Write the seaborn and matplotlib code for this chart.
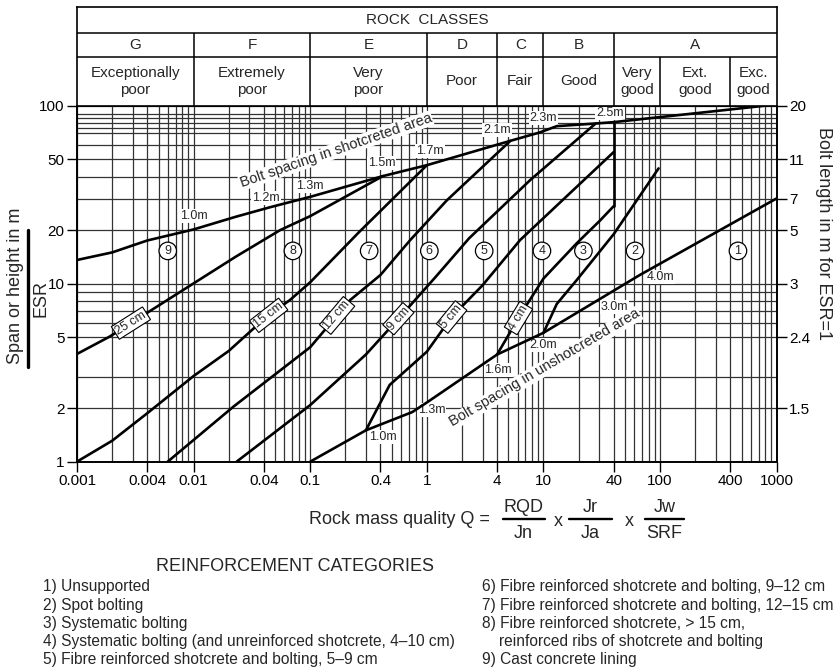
import numpy as np
import pandas as pd
import matplotlib
matplotlib.use("Agg")
import matplotlib.pyplot as plt
import seaborn as sns
from matplotlib.ticker import FixedLocator, FixedFormatter, NullLocator
from matplotlib.lines import Line2D

sns.set_theme(style="white")
plt.rcParams["font.family"] = ["Liberation Sans", "DejaVu Sans"]

# ---- boundary curves: Q vs span/ESR ----
top_q = [0.001, 0.002, 0.004, 0.01, 0.023, 0.045, 0.1, 0.42, 1.0, 5.2, 9.3, 13, 28, 40, 770]
top_s = [13.6, 15.0, 17.5, 20.2, 23.8, 26.9, 30.8, 40.3, 46.4, 63.6, 70.9, 76.9, 79.6, 81.0, 100]

bot_q = [0.1, 0.3, 0.75, 1.0, 4.0, 10, 67, 1000]
bot_s = [1.0, 1.5, 1.9, 2.15, 4.0, 5.3, 11.2, 30.2]

l25_q = [0.001, 0.0019, 0.01, 0.023, 0.055, 0.1, 0.42]
l25_s = [4.03, 5.04, 10.05, 14.2, 20.0, 24.0, 40.3]

l15_q = [0.001, 0.002, 0.004, 0.01, 0.02, 0.042, 0.067, 0.1, 0.26, 1.0]
l15_s = [1.0, 1.31, 1.87, 3.03, 4.19, 6.5, 8.1, 10.2, 19.4, 46.4]

l12_q = [0.006, 0.022, 0.1, 0.22, 0.4, 0.72, 1.48, 5.2]
l12_s = [1.0, 2.04, 4.4, 8.1, 11.2, 17.6, 29.4, 63.6]

l9_q = [0.0234, 0.1, 0.3, 0.6, 1.2, 2.3, 7.7, 28]
l9_s = [1.0, 2.08, 4.0, 6.6, 11.0, 18.0, 38.3, 79.6]

l5_q = [0.3, 0.48, 1.0, 1.63, 3.0, 6.3, 40]
l5_s = [1.5, 2.7, 4.15, 6.5, 9.8, 17.6, 55.0]

l4_q = [4.0, 6.3, 10, 19.3, 30.6, 40]
l4_s = [4.0, 6.65, 10.7, 16.9, 22.7, 27.3]

vert_q = [40, 40]
vert_s = [27.3, 81.0]

l3_q = [10, 13, 19.3, 40, 97]
l3_s = [5.3, 7.7, 10.5, 19.0, 44.5]

curves = {
    "top": (top_q, top_s), "bottom": (bot_q, bot_s),
    "25": (l25_q, l25_s), "15": (l15_q, l15_s), "12": (l12_q, l12_s),
    "9": (l9_q, l9_s), "5": (l5_q, l5_s), "4": (l4_q, l4_s),
    "vert": (vert_q, vert_s), "3": (l3_q, l3_s),
}

# labels
thick_text = ["25 cm", "15 cm", "12 cm", "9 cm", "5 cm", "4 cm"]
thick_line = ["25", "15", "12", "9", "5", "4"]
thick_q = [0.0029, 0.044, 0.17, 0.57, 1.63, 6.1]

top_lab = ["1.0m", "1.2m", "1.3m", "1.5m", "1.7m", "2.1m", "2.3m", "2.5m"]
top_lab_q = [0.01, 0.042, 0.1, 0.41, 1.07, 3.98, 10, 37]
top_lab_s = [24.0, 30.5, 35.5, 47.5, 56.0, 73.0, 85.0, 91.5]

bot_lab = ["1.0m", "1.3m", "1.6m", "2.0m", "3.0m", "4.0m"]
bot_lab_q = [0.42, 1.1, 4.1, 10, 40.6, 100]
bot_lab_s = [1.38, 1.95, 3.27, 4.52, 7.43, 10.96]

cat_num = ["9", "8", "7", "6", "5", "4", "3", "2", "1"]
cat_q = [0.006, 0.071, 0.32, 1.05, 3.1, 9.7, 22, 61, 465]
cat_s = 15.3

x_ticks = [0.001, 0.004, 0.01, 0.04, 0.1, 0.4, 1, 4, 10, 40, 100, 400, 1000]
x_labels = ["0.001", "0.004", "0.01", "0.04", "0.1", "0.4", "1", "4", "10", "40", "100", "400", "1000"]
y_ticks = [1, 2, 5, 10, 20, 50, 100]
y_labels = ["1", "2", "5", "10", "20", "50", "100"]
bolt_pos = [2, 5, 10, 20, 30, 50, 100]
bolt_len = ["1.5", "2.4", "3", "5", "7", "11", "20"]

grid_span = [1, 2, 3, 5, 6, 7, 8, 9, 10, 20, 30, 40, 50, 60, 70, 75, 80, 85, 90, 100]

class_edges = [0.001, 0.01, 0.1, 1, 4, 10, 40, 1000]
class_letters = ["G", "F", "E", "D", "C", "B", "A"]
desc_edges = [0.001, 0.01, 0.1, 1, 4, 10, 40, 100, 400, 1000]
desc_text = ["Exceptionally\npoor", "Extremely\npoor", "Very\npoor", "Poor", "Fair",
             "Good", "Very\ngood", "Ext.\ngood", "Exc.\ngood"]

categories_left = ["1) Unsupported", "2) Spot bolting", "3) Systematic bolting",
                   "4) Systematic bolting (and unreinforced shotcrete, 4\u201310 cm)",
                   "5) Fibre reinforced shotcrete and bolting, 5\u20139 cm"]
categories_right = ["6) Fibre reinforced shotcrete and bolting, 9\u201312 cm",
                    "7) Fibre reinforced shotcrete and bolting, 12\u201315 cm",
                    "8) Fibre reinforced shotcrete, > 15 cm,",
                    "    reinforced ribs of shotcrete and bolting",
                    "9) Cast concrete lining"]

# ---- figure ----
fig = plt.figure(figsize=(8.37, 6.70), dpi=100)
ax = fig.add_axes([0.092, 0.311, 0.836, 0.531])
ax.set_xscale("log")
ax.set_yscale("log")
ax.set_xlim(0.001, 1000)
ax.set_ylim(1, 100)

grid_q = [k * 10.0 ** e for e in range(-3, 3) for k in range(1, 10)] + [1000]
for q in grid_q:
    ax.axvline(q, color="#333333", lw=0.9, zorder=1)
for s in grid_span:
    ax.axhline(s, color="#333333", lw=0.9, zorder=1)

df = pd.concat([pd.DataFrame({"line": k, "Q": v[0], "span": v[1]}) for k, v in curves.items()],
               ignore_index=True)
sns.lineplot(data=df, x="Q", y="span", units="line", estimator=None, sort=False,
             color="black", linewidth=1.9, ax=ax, legend=False, zorder=4)
ax.set_xlabel("")
ax.set_ylabel("")


def span_at(q, s, qx):
    return 10 ** np.interp(np.log10(qx), np.log10(q), np.log10(s))


def angle_at(q, s, qx):
    a = ax.transData.transform((qx / 1.15, span_at(q, s, qx / 1.15)))
    b = ax.transData.transform((qx * 1.15, span_at(q, s, qx * 1.15)))
    return np.degrees(np.arctan2(b[1] - a[1], b[0] - a[0]))


for txt, key, qx in zip(thick_text, thick_line, thick_q):
    q, s = curves[key]
    ax.text(qx, span_at(q, s, qx), txt, rotation=angle_at(q, s, qx), rotation_mode="anchor",
            ha="center", va="center", fontsize=9, zorder=6,
            bbox=dict(boxstyle="square,pad=0.12", fc="white", ec="black", lw=0.8))

for txt, qx, sy in zip(top_lab + bot_lab, top_lab_q + bot_lab_q, top_lab_s + bot_lab_s):
    ax.text(qx, sy, txt, ha="center", va="center", fontsize=9, zorder=3,
            bbox=dict(boxstyle="square,pad=0.08", fc="white", ec="none"))

for txt, qx in zip(cat_num, cat_q):
    ax.text(qx, cat_s, txt, ha="center", va="center", fontsize=9, zorder=6,
            bbox=dict(boxstyle="circle,pad=0.22", fc="white", ec="black", lw=0.9))

ax.text(0.166, 56, "Bolt spacing in shotcreted area", rotation=19, ha="center", va="center",
        fontsize=10.5, zorder=3, bbox=dict(boxstyle="square,pad=0.05", fc="white", ec="none"))
ax.text(10.3, 3.36, "Bolt spacing in unshotcreted area", rotation=30.5, ha="center", va="center",
        fontsize=10.5, zorder=3, bbox=dict(boxstyle="square,pad=0.05", fc="white", ec="none"))

ax.xaxis.set_major_locator(FixedLocator(x_ticks))
ax.xaxis.set_major_formatter(FixedFormatter(x_labels))
ax.xaxis.set_minor_locator(NullLocator())
ax.yaxis.set_major_locator(FixedLocator(y_ticks))
ax.yaxis.set_major_formatter(FixedFormatter(y_labels))
ax.yaxis.set_minor_locator(NullLocator())
ax.tick_params(axis="both", which="major", direction="out", length=7, width=1,
               labelsize=11, pad=2, colors="black", left=True, bottom=True)
for sp in ax.spines.values():
    sp.set_color("black")
    sp.set_linewidth(1.2)

ax2 = ax.twinx()
ax2.set_yscale("log")
ax2.set_ylim(1, 100)
ax2.yaxis.set_major_locator(FixedLocator(bolt_pos))
ax2.yaxis.set_major_formatter(FixedFormatter(bolt_len))
ax2.yaxis.set_minor_locator(NullLocator())
ax2.tick_params(axis="y", direction="out", length=7, width=1, labelsize=11, pad=2,
                colors="black", right=True)
for sp in ax2.spines.values():
    sp.set_color("black")
    sp.set_linewidth(1.2)

# ---- header table ----
hx = fig.add_axes([0.092, 0.842, 0.836, 0.148])
hx.set_xscale("log")
hx.set_xlim(0.001, 1000)
hx.set_ylim(0, 1)
hx.set_xticks([])
hx.set_yticks([])
hx.xaxis.set_minor_locator(NullLocator())
for sp in hx.spines.values():
    sp.set_color("black")
    sp.set_linewidth(1.2)
hx.axhline(0.492, color="black", lw=1.1)
hx.axhline(0.734, color="black", lw=1.1)
hx.vlines(class_edges[1:-1], 0, 0.734, color="black", lw=1.1)
hx.vlines([100, 400], 0, 0.492, color="black", lw=1.1)
hx.text(1, 0.867, "ROCK  CLASSES", ha="center", va="center", fontsize=11)
for i, letter in enumerate(class_letters):
    xc = np.sqrt(class_edges[i] * class_edges[i + 1])
    hx.text(xc, 0.613, letter, ha="center", va="center", fontsize=11)
for i, txt in enumerate(desc_text):
    xc = np.sqrt(desc_edges[i] * desc_edges[i + 1])
    hx.text(xc, 0.246, txt, ha="center", va="center", fontsize=11, linespacing=1.25)

# ---- axis titles ----
fig.text(0.019, 0.573, "Span or height in m", rotation=90, ha="center", va="center", fontsize=13)
fig.add_artist(Line2D([0.0335, 0.0335], [0.452, 0.657], transform=fig.transFigure,
                      color="black", lw=2.4))
fig.text(0.0485, 0.554, "ESR", rotation=90, ha="center", va="center", fontsize=13)
fig.text(0.984, 0.651, "Bolt length in m for ESR=1", rotation=270, ha="center", va="center",
         fontsize=13)

# Q formula
fig.text(0.585, 0.224, "Rock mass quality Q =", ha="right", va="center", fontsize=13)


def frac(xc, num, den, half):
    fig.text(xc, 0.243, num, ha="center", va="center", fontsize=13)
    fig.text(xc, 0.204, den, ha="center", va="center", fontsize=13)
    fig.add_artist(Line2D([xc - half, xc + half], [0.2255, 0.2255], transform=fig.transFigure,
                          color="black", lw=1.7))


frac(0.6257, "RQD", "Jn", 0.025)
fig.text(0.667, 0.221, "x", ha="center", va="center", fontsize=13)
frac(0.7053, "Jr", "Ja", 0.0255)
fig.text(0.752, 0.221, "x", ha="center", va="center", fontsize=13)
frac(0.7937, "Jw", "SRF", 0.023)

fig.text(0.353, 0.155, "REINFORCEMENT CATEGORIES", ha="center", va="center", fontsize=13)
rows_y = [0.1239, 0.0970, 0.0687, 0.0418, 0.0164]
for txt, yy in zip(categories_left, rows_y):
    fig.text(0.051, yy, txt, ha="left", va="center", fontsize=11.2)
for txt, yy in zip(categories_right, rows_y):
    fig.text(0.576, yy, txt, ha="left", va="center", fontsize=11.2)

fig.savefig("out.png", dpi=100)
